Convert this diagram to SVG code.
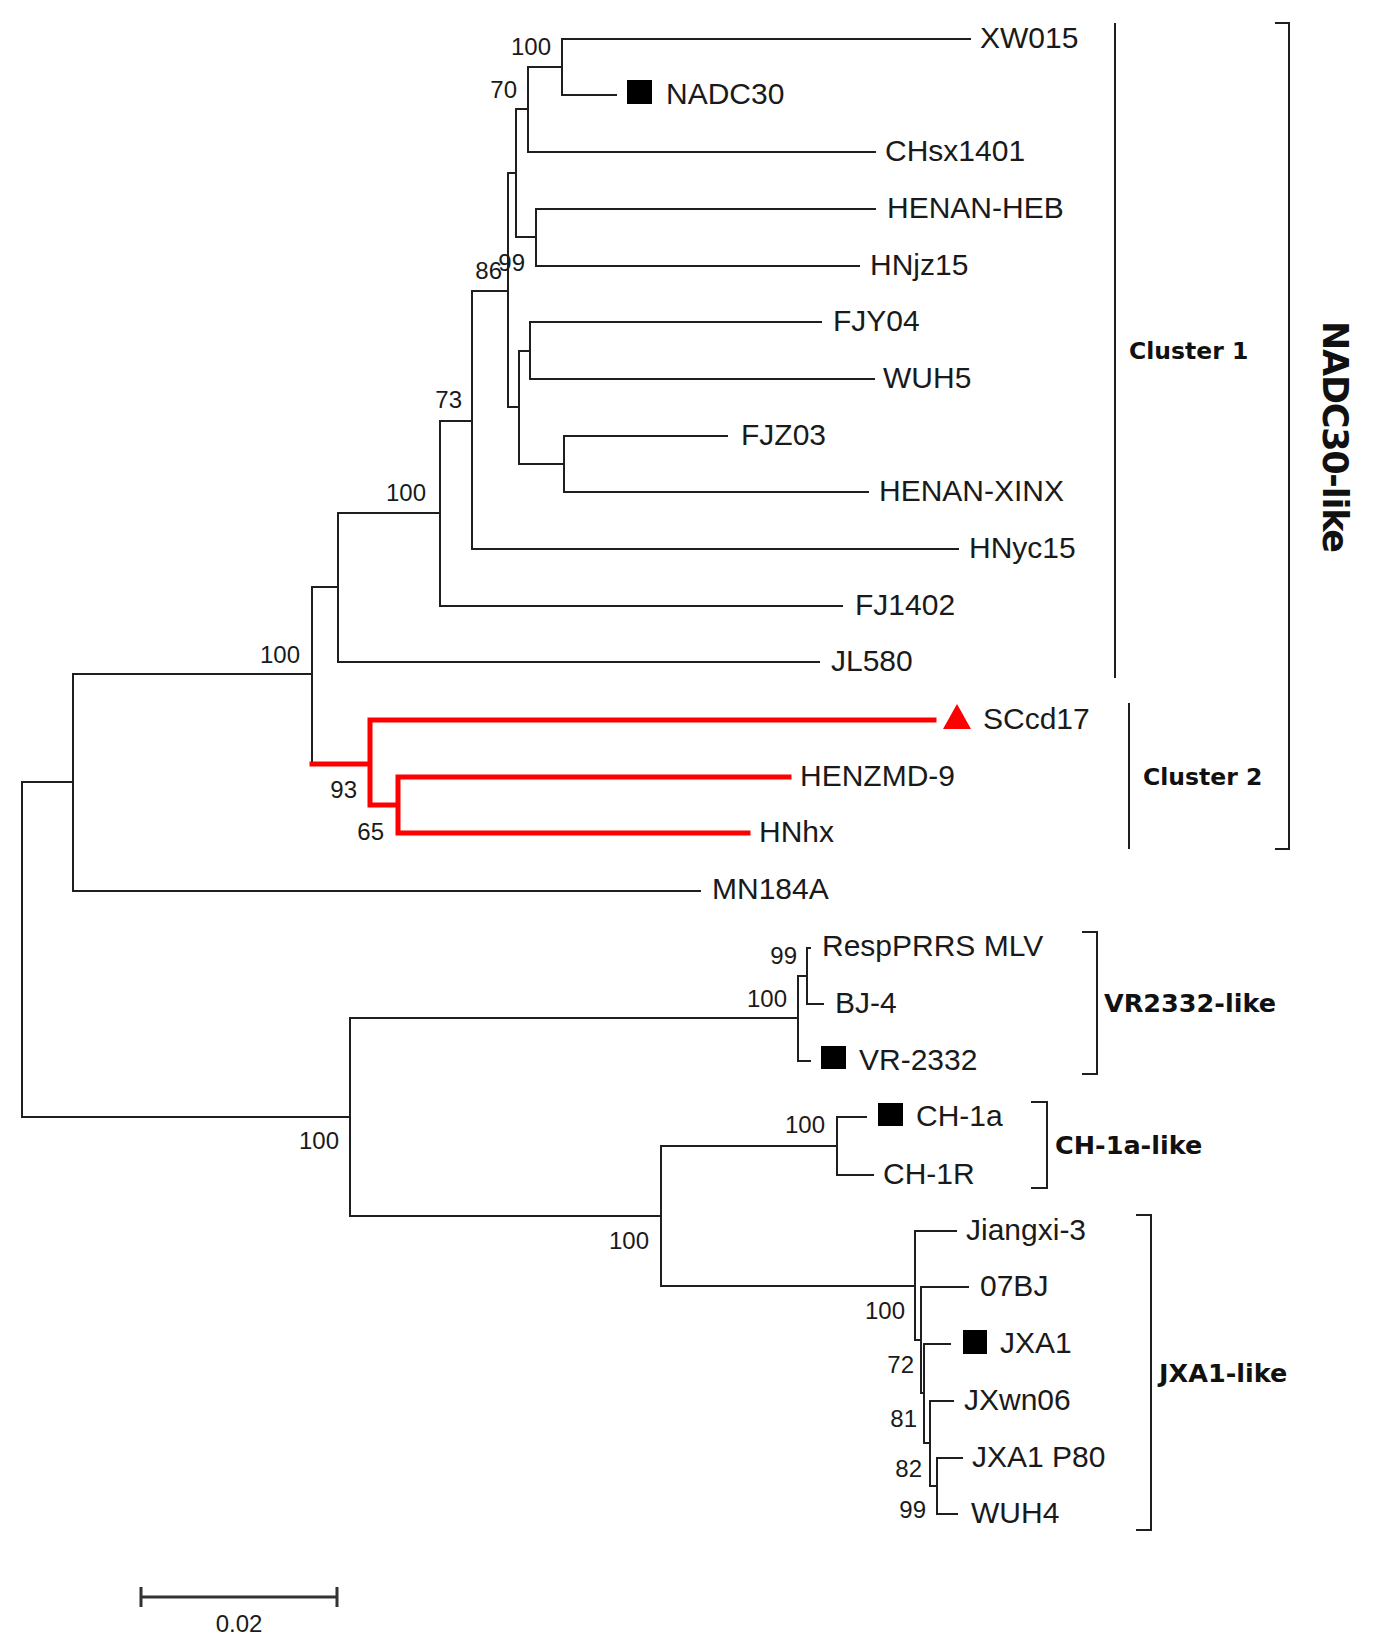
<svg xmlns="http://www.w3.org/2000/svg" width="1375" height="1651" viewBox="0 0 1375 1651">
<style>
.br{stroke:#1f1f1f;stroke-width:2;fill:none;stroke-linecap:square}
.red{stroke:#ff0000;stroke-width:5;fill:none;stroke-linecap:square}
.bk{stroke:#1f1f1f;stroke-width:2;fill:none}
.lab{font-family:"Liberation Sans",Arial,sans-serif;font-size:30px;fill:#1a1a1a}
.bs{font-family:"Liberation Sans",Arial,sans-serif;font-size:24px;fill:#1a1a1a;text-anchor:end}
.cl{font-family:"DejaVu Sans",Verdana,sans-serif;font-weight:bold;font-size:23.5px;fill:#111}
.gl{font-size:25.5px}
.sq{fill:#000}
</style>
<rect width="1375" height="1651" fill="#fff"/>
<g id="connectors">
<path class="br" d="M562,39H970M562,39V95H616M528,67H562M528,67V152H875M516,109H528M516,109V237M536,209V266M536,209H875M536,266H859M516,237H536M508,173H516M508,173V407H519M519,351V464M530,322V379M530,322H821M530,379H874M519,351H530M564,436V492M564,436H727M564,492H868M519,464H564M472,291H508M472,291V549H958M440,421H472M440,421V606H842M338,513H440M338,513V662H819M312,587H338M312,587V764M73,674H312M73,674V891H700M22,782H73M22,782V1117H350M350,1018V1216M350,1018H798M798,976V1061H810M798,976H807M807,948V1004H823M807,948H810M350,1216H661M661,1146V1286H915M661,1146H837M837,1117V1175M837,1117H866M837,1175H873M915,1231V1340M915,1231H956M915,1340H921M921,1287V1393M921,1287H968M921,1393H924M924,1344V1443M924,1344H950M924,1443H930M930,1401V1486M930,1401H953M930,1486H937M937,1458V1514M937,1458H962M937,1514H957"/>
<path class="red" d="M312,764H370M370,720V805M370,720H934M370,805H398M398,777V833M398,777H789M398,833H748"/>
</g>
<g id="support">
<text class="bs" x="551" y="55">100</text>
<text class="bs" x="517" y="98">70</text>
<text class="bs" x="502" y="279">86</text>
<text class="bs" x="525" y="271">99</text>
<text class="bs" x="462" y="408">73</text>
<text class="bs" x="426" y="501">100</text>
<text class="bs" x="300" y="663">100</text>
<text class="bs" x="357" y="798">93</text>
<text class="bs" x="384" y="840">65</text>
<text class="bs" x="797" y="964">99</text>
<text class="bs" x="787" y="1007">100</text>
<text class="bs" x="825" y="1133">100</text>
<text class="bs" x="339" y="1149">100</text>
<text class="bs" x="649" y="1249">100</text>
<text class="bs" x="905" y="1319">100</text>
<text class="bs" x="914" y="1373">72</text>
<text class="bs" x="917" y="1427">81</text>
<text class="bs" x="922" y="1477">82</text>
<text class="bs" x="926" y="1518">99</text>
</g>
<g id="n-XW015"><text class="lab" x="980" y="48">XW015</text></g>
<g id="n-NADC30"><rect class="sq" x="627" y="80" width="25" height="24"/><text class="lab" x="666" y="104">NADC30</text></g>
<g id="n-CHsx1401"><text class="lab" x="885" y="161">CHsx1401</text></g>
<g id="n-HENAN-HEB"><text class="lab" x="887" y="218">HENAN-HEB</text></g>
<g id="n-HNjz15"><text class="lab" x="870" y="275">HNjz15</text></g>
<g id="n-FJY04"><text class="lab" x="833" y="331">FJY04</text></g>
<g id="n-WUH5"><text class="lab" x="883" y="388">WUH5</text></g>
<g id="n-FJZ03"><text class="lab" x="741" y="445">FJZ03</text></g>
<g id="n-HENAN-XINX"><text class="lab" x="879" y="501">HENAN-XINX</text></g>
<g id="n-HNyc15"><text class="lab" x="969" y="558">HNyc15</text></g>
<g id="n-FJ1402"><text class="lab" x="855" y="615">FJ1402</text></g>
<g id="n-JL580"><text class="lab" x="831" y="671">JL580</text></g>
<g id="n-SCcd17"><polygon points="943,729 971,729 957,704" fill="#ff0000"/><text class="lab" x="983" y="729">SCcd17</text></g>
<g id="n-HENZMD-9"><text class="lab" x="800" y="786">HENZMD-9</text></g>
<g id="n-HNhx"><text class="lab" x="759" y="842">HNhx</text></g>
<g id="n-MN184A"><text class="lab" x="712" y="899">MN184A</text></g>
<g id="n-RespPRRS"><text class="lab" x="822" y="956">RespPRRS MLV</text></g>
<g id="n-BJ-4"><text class="lab" x="835" y="1013">BJ-4</text></g>
<g id="n-VR-2332"><rect class="sq" x="821" y="1046" width="25" height="23"/><text class="lab" x="859" y="1070">VR-2332</text></g>
<g id="n-CH-1a"><rect class="sq" x="878" y="1103" width="25" height="23"/><text class="lab" x="916" y="1126">CH-1a</text></g>
<g id="n-CH-1R"><text class="lab" x="883" y="1184">CH-1R</text></g>
<g id="n-Jiangxi-3"><text class="lab" x="966" y="1240">Jiangxi-3</text></g>
<g id="n-07BJ"><text class="lab" x="980" y="1296">07BJ</text></g>
<g id="n-JXA1"><rect class="sq" x="963" y="1330" width="24" height="24"/><text class="lab" x="1000" y="1353">JXA1</text></g>
<g id="n-JXwn06"><text class="lab" x="964" y="1410">JXwn06</text></g>
<g id="n-JXA1P80"><text class="lab" x="972" y="1467">JXA1 P80</text></g>
<g id="n-WUH4"><text class="lab" x="971" y="1523">WUH4</text></g>
<g id="bracket-cluster1"><path class="bk" d="M1115,23V678"/><text class="cl" x="1129" y="359">Cluster 1</text></g>
<g id="bracket-cluster2"><path class="bk" d="M1129,703V849"/><text class="cl" x="1143" y="785">Cluster 2</text></g>
<g id="bracket-nadc30"><path class="bk" d="M1275,23H1289V849H1275"/><text class="cl" style="font-size:35px" transform="translate(1323,437) rotate(90)" text-anchor="middle" textLength="232">NADC30-like</text></g>
<g id="bracket-vr2332"><path class="bk" d="M1082,932H1097V1074H1082"/><text class="cl gl" x="1104" y="1012">VR2332-like</text></g>
<g id="bracket-ch1a"><path class="bk" d="M1031,1102H1047V1188H1031"/><text class="cl gl" x="1055" y="1154">CH-1a-like</text></g>
<g id="bracket-jxa1"><path class="bk" d="M1136,1215H1151V1530H1136"/><text class="cl gl" x="1159" y="1382">JXA1-like</text></g>
<g id="scalebar"><path d="M141,1597H337M141,1587V1607M337,1587V1607" stroke="#333" stroke-width="3" fill="none"/><text class="bs" x="239" y="1632" style="text-anchor:middle">0.02</text></g>
</svg>
